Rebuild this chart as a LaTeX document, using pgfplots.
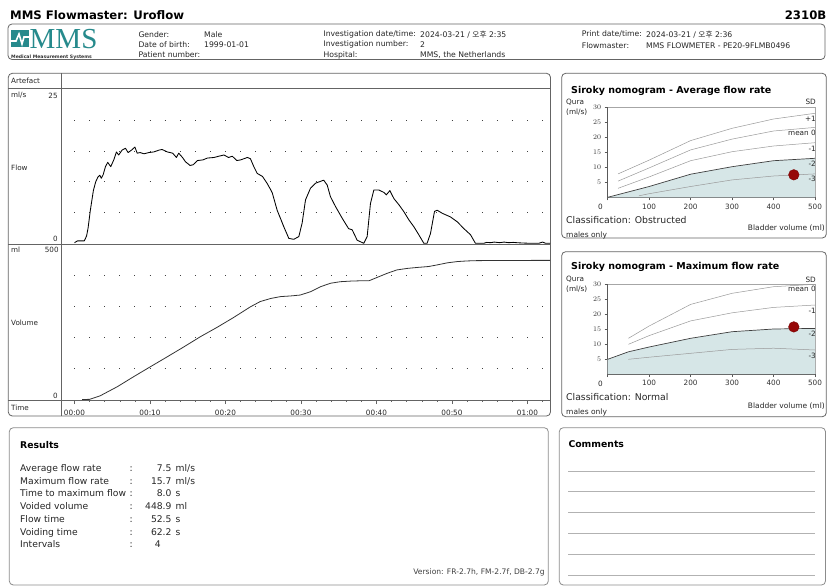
\documentclass[border=0pt]{standalone}
\usepackage{pgfplots}
\pgfplotsset{compat=1.18}
\usepackage{fontspec}
\setmainfont{DejaVu Sans}
\newfontfamily\kr{Noto Sans CJK KR}
\newfontfamily\logofont{Liberation Serif}
\definecolor{mmsteal}{RGB}{38,138,140}
\definecolor{boxline}{RGB}{100,100,100}
\definecolor{shade}{RGB}{214,230,231}
\definecolor{dotred}{RGB}{150,8,8}
\newcommand{\fs}[1]{\fontsize{#1}{#1}\selectfont}

% nomogram curves, x = bladder volume (ml), y = flow (ml/s)
\pgfplotstableread{
x y
0 0
100 3.6
200 7.7
300 10.2
400 12.2
500 13.0
}\avgminustwo
\pgfplotstableread{
x y
0 4.9
50 7.4
100 9.0
200 11.9
300 14.1
400 15.0
500 15.2
}\maxminustwo

\pgfplotsset{
  siroky/.style={
    scale only axis, width=207.3pt, height=90pt,
    xmin=0, xmax=500, ymin=0, ymax=30,
    axis lines*=left,
    axis line style={black!65, line width=0.6pt},
    xtick={0,100,...,500}, xticklabels={,100,200,300,400,500},
    ytick={5,10,...,30},
    tick align=outside, major tick length=3pt,
    tick style={black!65, line width=0.5pt},
    ticklabel style={font=\fs{7.3}, text=black!80},
    clip=false,
  },
  sdline/.style={black!40, line width=0.5pt},
  dotgrid/.style={
    ymajorgrids,
    major grid style={black!75, line width=1pt, dash pattern=on 1pt off 14.1pt, dash phase=3.05pt},
  },
}

\begin{document}
\begin{tikzpicture}[x=1pt,y=1pt]
\useasboundingbox (0,0) rectangle (827,-587);
\fill[white] (0,0) rectangle (827,-587);

% ---------- header ----------
\node[anchor=west, inner sep=0, font=\bfseries\fs{11.7}] at (10,-15) {MMS Flowmaster: Uroflow};
\node[anchor=east, inner sep=0, font=\bfseries\fs{11.7}] at (826.5,-15) {2310B};
\draw[boxline, line width=0.8pt, rounded corners=4] (8,-24) rectangle (825,-59.5);

% logo
\fill[mmsteal] (11,-30) rectangle (29,-47);
\draw[white, line width=1.6pt] (11,-41) -- (16,-41) -- (19,-34) -- (22,-44) -- (24,-37) -- (29,-37);
\node[anchor=base west, inner sep=0, text depth=0pt, font=\logofont\fs{29}, text=mmsteal] at (29.5,-48.5) {MMS};
\node[anchor=west, inner sep=0, font=\bfseries\fs{4.6}, text=black!80] at (11,-57) {Medical Measurement Systems};

\begin{scope}[every node/.style={anchor=west, inner sep=0, font=\fs{7.7}, text=black!85}]
\node at (138.3,-34.3) {Gender:};
\node at (204,-34.3) {Male};
\node at (138.3,-44.7) {Date of birth:};
\node at (204,-44.7) {1999-01-01};
\node at (138.3,-55) {Patient number:};
\node at (323.3,-34.3) {Investigation date/time:};
\node at (420,-34.3) {2024-03-21 / {\kr 오후} 2:35};
\node at (323.3,-44.7) {Investigation number:};
\node at (420,-44.7) {2};
\node at (323.3,-55) {Hospital:};
\node at (420,-55) {MMS, the Netherlands};
\node at (581.7,-34.3) {Print date/time:};
\node at (646,-34.3) {2024-03-21 / {\kr 오후} 2:36};
\node at (581.7,-45.5) {Flowmaster:};
\node at (646,-45.5) {MMS FLOWMETER - PE20-9FLMB0496};
\end{scope}

% ---------- main chart frame ----------
\draw[boxline, line width=0.8pt, rounded corners=4] (8.3,-73.3) rectangle (550.5,-416);
\draw[boxline, line width=0.8pt] (8.3,-88.3) -- (550.5,-88.3);
\draw[boxline, line width=0.8pt] (8.3,-244) -- (550.5,-244);
\draw[boxline, line width=0.8pt] (8.3,-400) -- (550.5,-400);
\draw[boxline, line width=0.8pt] (61.7,-73.3) -- (61.7,-416);

\begin{scope}[every node/.style={inner sep=0, font=\fs{7.2}, text=black!85}]
\node[anchor=west] at (11,-81) {Artefact};
\node[anchor=west] at (11,-95.5) {ml/s};
\node[anchor=east] at (57.8,-95.5) {25};
\node[anchor=west] at (11,-167.7) {Flow};
\node[anchor=east] at (57.8,-239.3) {0};
\node[anchor=west] at (11,-250) {ml};
\node[anchor=east] at (58.8,-250) {500};
\node[anchor=west] at (11,-322.7) {Volume};
\node[anchor=east] at (57.8,-395.7) {0};
\node[anchor=west] at (11,-408.3) {Time};
\end{scope}

% flow
\begin{axis}[at={(62pt,-243.3pt)}, anchor=south west, scale only axis,
  width=488pt, height=153.3pt,
  xmin=-1.656, xmax=62.98, ymin=0, ymax=25,
  axis line style={draw=none}, xtick=\empty,
  ytick={5,10,15,20}, yticklabels={}, ytick style={draw=none},
  dotgrid]
\addplot[black, line width=0.85pt, line join=round] coordinates {
(0.0,0.1) (0.4,0.4) (1.3,0.4) (1.6,1.2) (1.8,2.5) (2.1,5.4) (2.5,8.6) (2.8,10.0)
(3.1,10.8) (3.35,11.1) (3.55,10.6) (3.8,11.2) (4.1,12.5) (4.4,13.2) (4.8,12.5)
(5.2,13.6) (5.55,14.9) (5.85,14.4) (6.3,15.2) (6.75,15.5) (7.1,14.8) (7.55,15.2)
(8.0,15.7) (8.3,14.7) (8.7,14.8) (9.2,14.6) (9.85,14.8) (10.5,14.9) (11.2,15.2)
(11.6,15.3) (12.3,14.9) (13.0,14.7) (13.5,14.0) (13.8,14.7) (14.3,14.0) (14.7,13.3)
(15.3,12.7) (15.7,12.8) (16.3,13.5) (17.0,13.6) (17.6,13.9) (18.5,14.0) (19.1,14.2)
(19.8,14.4) (20.4,14.0) (20.9,14.2) (21.5,13.5) (22.0,13.6) (22.9,14.0) (23.3,13.8)
(23.75,12.5) (24.2,11.4) (24.9,10.9) (25.5,9.8) (26.0,8.7) (26.2,8.2) (26.84,5.4)
(27.3,4.0) (27.72,2.7) (28.39,0.8) (29.05,0.65) (29.71,1.1) (30.15,3.3) (30.6,7.1)
(31.26,9.0) (31.92,9.8) (32.58,10.1) (33.0,10.3) (33.47,9.5) (33.9,7.6) (34.57,6.0)
(35.45,4.1) (36.3,2.4) (36.78,2.2) (37.44,0.5) (38.32,0.0) (38.76,1.1) (39.2,6.5)
(39.65,8.7) (40.3,8.7) (40.97,8.3) (41.3,7.9) (41.77,8.6) (42.3,7.3) (42.96,6.3)
(43.6,5.2) (44.3,3.8) (44.95,2.7) (45.6,1.4) (46.27,0.0) (46.7,0.0) (47.15,1.6)
(47.68,5.2) (48.03,5.4) (48.7,4.9) (49.8,4.3) (50.7,3.5) (51.57,2.4) (52.45,1.4)
(53.1,0.0) (54.2,0.0) (54.6,0.15) (55.1,0.1) (55.6,0.2) (56.3,0.1) (56.9,0.2)
(57.5,0.1) (58.1,0.15) (58.6,0.1) (59.3,0.05) (60.4,0.0) (61.5,0.0) (62.0,0.2)
(62.4,0.0) (63.0,0.0)
};
\end{axis}

% volume
\begin{axis}[at={(62pt,-399.5pt)}, anchor=south west, scale only axis,
  width=488pt, height=155pt,
  xmin=-1.656, xmax=62.98, ymin=0, ymax=500,
  axis line style={draw=none},
  ytick={100,200,300,400}, yticklabels={}, ytick style={draw=none},
  dotgrid,
  xtick={0,10,...,60},
  xticklabels={00:00,00:10,00:20,00:30,00:40,00:50,01:00},
  minor xtick={0,2,...,62},
  xtick pos=bottom, xtick align=outside,
  major tick length=4.7pt, minor tick length=2.4pt,
  xtick style={boxline, line width=0.6pt},
  xticklabel style={font=\fs{7.3}, text=black!85, inner sep=0pt, yshift=-5.5pt}]
\addplot[black!80, line width=0.8pt, line join=round] coordinates {
(1.0,0) (2.0,0.5) (3.4,12) (5.65,41) (7.86,74) (10.07,106) (12.3,138) (14.5,170)
(16.7,203) (18.9,233) (21.1,265) (23.3,299) (24.6,316) (26.0,326) (27.3,332)
(28.6,334) (29.9,337) (31.3,348) (32.6,364) (33.9,375) (35.2,380) (36.6,382)
(37.9,383) (39.0,383) (40.1,394) (41.4,407) (42.7,418) (44.1,423) (45.4,426)
(46.9,429) (48.0,434) (49.4,441) (50.7,445) (52.0,447) (53.3,448) (56.9,448.5)
(63.0,448.9)
};
\end{axis}

% ---------- Siroky: average flow rate ----------
\draw[boxline, line width=0.8pt, rounded corners=4] (561.7,-73.3) rectangle (826.3,-238);
\draw[black!35, line width=0.5pt] (607.7,-107.3) -- (815,-107.3) -- (815,-197.3);
\begin{axis}[at={(607.7pt,-197.3pt)}, anchor=south west, siroky]
\addplot[draw=none, fill=shade] table {\avgminustwo} \closedcycle;
\addplot[sdline] coordinates {(25,7.8) (100,12.4) (200,18.9) (300,23.0) (400,26.1) (500,28.0)};
\addplot[sdline] coordinates {(25,5.4) (100,9.8) (200,15.8) (300,19.4) (400,22.1) (500,23.3)};
\addplot[sdline] coordinates {(25,3.0) (100,6.8) (200,12.2) (300,15.2) (400,17.1) (500,18.2)};
\addplot[black!75, line width=0.7pt] table {\avgminustwo};
\addplot[sdline] coordinates {(75,0.5) (100,1.2) (200,3.6) (300,5.8) (400,7.1) (500,7.8)};
\addplot[only marks, mark=*, mark size=5.3pt, draw=dotred!80!black, fill=dotred] coordinates {(448.9,7.5)};
\end{axis}
\node[anchor=west, inner sep=0, font=\bfseries\fs{9.5}] at (571,-90.7) {Siroky nomogram - Average flow rate};
\begin{scope}[every node/.style={inner sep=0, font=\fs{7.3}, text=black!85}]
\node[anchor=west] at (566,-102.5) {Qura};
\node[anchor=west] at (566,-112.5) {(ml/s)};
\node[anchor=east] at (816,-102) {SD};
\node[anchor=east] at (816,-119.3) {+1};
\node[anchor=east] at (816,-133.3) {mean 0};
\node[anchor=east] at (816,-149.3) {-1};
\node[anchor=east] at (816,-164) {-2};
\node[anchor=east] at (816,-179.3) {-3};
\node at (600.5,-207.3) {0};
\node[anchor=east, font=\fs{7.5}] at (825,-228) {Bladder volume (ml)};
\node[anchor=west, font=\fs{7.5}] at (566,-235) {males only};
\node[anchor=west, font=\fs{9.3}] at (566,-220) {Classification: Obstructed};
\end{scope}

% ---------- Siroky: maximum flow rate ----------
\draw[boxline, line width=0.8pt, rounded corners=4] (561.7,-251.7) rectangle (826.3,-416.7);
\draw[black!35, line width=0.5pt] (607.7,-284) -- (815,-284) -- (815,-374);
\begin{axis}[at={(607.7pt,-374pt)}, anchor=south west, siroky]
\addplot[draw=none, fill=shade] table {\maxminustwo} \closedcycle;
\addplot[sdline] coordinates {(50,11.9) (100,16.0) (200,23.2) (300,26.9) (400,29.1) (500,29.9)};
\addplot[sdline] coordinates {(50,9.9) (100,12.8) (200,17.7) (300,20.4) (400,22.2) (500,23.0)};
\addplot[black!75, line width=0.7pt] table {\maxminustwo};
\addplot[sdline] coordinates {(50,4.9) (100,5.6) (200,6.9) (300,8.2) (400,8.6) (500,8.0)};
\addplot[only marks, mark=*, mark size=5.3pt, draw=dotred!80!black, fill=dotred] coordinates {(448.9,15.7)};
\end{axis}
\node[anchor=west, inner sep=0, font=\bfseries\fs{9.5}] at (571,-267.3) {Siroky nomogram - Maximum flow rate};
\begin{scope}[every node/.style={inner sep=0, font=\fs{7.3}, text=black!85}]
\node[anchor=west] at (566,-279.5) {Qura};
\node[anchor=west] at (566,-289.5) {(ml/s)};
\node[anchor=east] at (816,-280) {SD};
\node[anchor=east] at (816,-289) {mean 0};
\node[anchor=east] at (816,-310.7) {-1};
\node[anchor=east] at (816,-333.3) {-2};
\node[anchor=east] at (816,-356) {-3};
\node at (600.5,-384) {0};
\node[anchor=east, font=\fs{7.5}] at (825,-405.7) {Bladder volume (ml)};
\node[anchor=west, font=\fs{7.5}] at (566,-412) {males only};
\node[anchor=west, font=\fs{9.3}] at (566,-396.7) {Classification: Normal};
\end{scope}

% ---------- results ----------
\draw[black!45, line width=0.8pt, rounded corners=4] (9.3,-427.7) rectangle (548.3,-585);
\node[anchor=west, inner sep=0, font=\bfseries\fs{9.3}] at (20,-445) {Results};
\begin{scope}[every node/.style={inner sep=0, font=\fs{9.2}, text=black!85}]
\foreach \lab/\val/\unit [count=\i from 0] in {Average flow rate/7.5/{ml/s}, Maximum flow rate/15.7/{ml/s},
  Time to maximum flow/8.0/s, Voided volume/448.9/ml, Flow time/52.5/s, Voiding time/62.2/s}{
  \node[anchor=base west] at (20,-471.5-12.7*\i) {\lab};
  \node[anchor=base west] at (129.5,-471.5-12.7*\i) {:};
  \node[anchor=base east] at (171.7,-471.5-12.7*\i) {\val};
  \node[anchor=base west] at (175.5,-471.5-12.7*\i) {\unit};
}
\node[anchor=base west] at (20,-547.7) {Intervals};
\node[anchor=base west] at (129.5,-547.7) {:};
\node[anchor=base east] at (161,-547.7) {4};
\end{scope}
\node[anchor=east, inner sep=0, font=\fs{7.6}, text=black!75] at (545,-572) {Version: FR-2.7h, FM-2.7f, DB-2.7g};

% ---------- comments ----------
\draw[black!45, line width=0.8pt, rounded corners=4] (559.3,-427.7) rectangle (825.5,-585);
\node[anchor=west, inner sep=0, font=\bfseries\fs{9.3}] at (568.3,-444.3) {Comments};
\foreach \yy in {471,491.7,512.3,533.3,554.3,575}{
  \draw[black!30, line width=0.6pt] (568,-\yy) -- (815,-\yy);
}
\end{tikzpicture}
\end{document}
